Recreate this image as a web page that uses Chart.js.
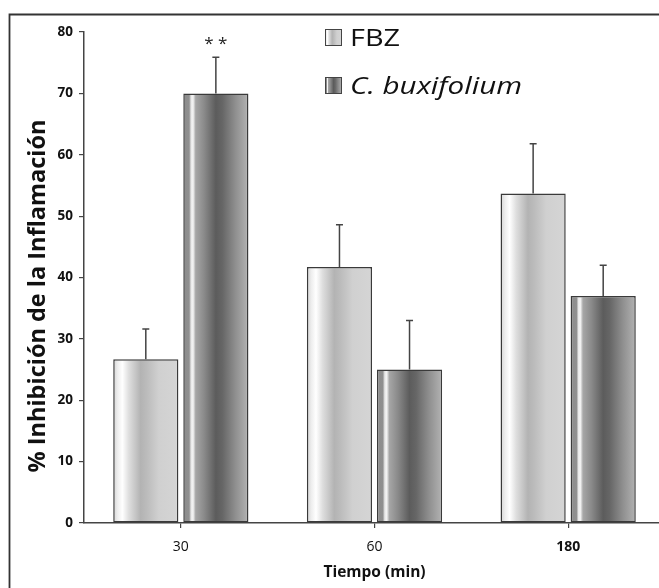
<!DOCTYPE html>
<html>
<head>
<meta charset="utf-8">
<script src="https://cdn.jsdelivr.net/npm/chart.js@4.4.1/dist/chart.umd.min.js"></script>
<style>
  html, body { margin: 0; padding: 0; background: #fff; overflow: hidden; }
  #wrap { position: relative; width: 665px; height: 588px; }
</style>
</head>
<body>
<div id="wrap"><canvas id="inflamacionChart"></canvas></div>
<script>
// Tiempos (min) y % de inhibición, media + error
const tiempos = ['30', '60', '180'];
const seriesNames = ['FBZ', 'C. buxifolium'];
const fbzValues = [26.7, 41.7, 53.7];
const fbzErrors = [4.9, 6.9, 8.1];
const cbuxValues = [70.0, 25.0, 37.0];
const cbuxErrors = [5.9, 8.0, 5.0];
const cbuxSignif = ['* *', '', ''];
const yTicks = [0, 10, 20, 30, 40, 50, 60, 70, 80];

const FONT = '"Open Sans", "Noto Sans", sans-serif';
const CAT_PCT = 0.7235;
const BAR_PCT = 0.93;

// cylinder-like shading for each series
const fbzStops = [[0, '#d4d4d4'], [0.07, '#eeeeee'], [0.14, '#ffffff'], [0.24, '#dedede'],
  [0.42, '#b3b3b3'], [0.52, '#bcbcbc'], [0.7, '#d0d0d0'], [1, '#d5d5d5']];
const cbuxStops = [[0, '#8c8c8c'], [0.09, '#8f8f8f'], [0.12, '#e8e8e8'], [0.15, '#f4f4f4'],
  [0.19, '#a6a6a6'], [0.32, '#8a8a8a'], [0.5, '#5c5c5c'], [0.6, '#666666'], [0.8, '#8f8f8f'], [1, '#b3b3b3']];

function makeGradient(ctx, left, width, stops) {
  const g = ctx.createLinearGradient(left, 0, left + width, 0);
  stops.forEach(s => g.addColorStop(s[0], s[1]));
  return g;
}

function barFill(stops) {
  return function(context) {
    const chart = context.chart;
    const xScale = chart.scales.x;
    const fallback = stops[4][1];
    if (!xScale || context.dataIndex === undefined) return fallback;
    const catW = xScale.width / tiempos.length;
    const slot = catW * CAT_PCT / 2;
    const barW = slot * BAR_PCT;
    const left = xScale.getPixelForValue(context.dataIndex) - catW * CAT_PCT / 2 +
      context.datasetIndex * slot + (slot - barW) / 2;
    if (!isFinite(left) || !(barW > 0)) return fallback;
    return makeGradient(chart.ctx, left, barW, stops);
  };
}

const framePlugin = {
  id: 'frame',
  afterDraw(chart) {
    const ctx = chart.ctx;
    ctx.save();
    ctx.strokeStyle = '#333';
    ctx.lineWidth = 1.8;
    ctx.beginPath();
    ctx.moveTo(9.5, 588);
    ctx.lineTo(9.5, 14.5);
    ctx.lineTo(chart.width, 14.5);
    ctx.stroke();
    ctx.restore();
  }
};

const errorBarPlugin = {
  id: 'errorBars',
  afterDatasetsDraw(chart) {
    const ctx = chart.ctx;
    const y = chart.scales.y;
    chart.data.datasets.forEach((ds, di) => {
      const meta = chart.getDatasetMeta(di);
      meta.data.forEach((bar, i) => {
        const top = y.getPixelForValue(ds.data[i] + ds.errors[i]);
        ctx.save();
        ctx.strokeStyle = '#444';
        ctx.lineWidth = 1.5;
        ctx.beginPath();
        ctx.moveTo(bar.x, bar.y);
        ctx.lineTo(bar.x, top);
        ctx.moveTo(bar.x - 3.5, top);
        ctx.lineTo(bar.x + 3.5, top);
        ctx.stroke();
        if (ds.signif && ds.signif[i]) {
          ctx.fillStyle = '#222';
          ctx.font = '17px ' + FONT;
          ctx.textAlign = 'center';
          ctx.textBaseline = 'middle';
          ctx.fillText(ds.signif[i], bar.x, top - 13);
        }
        ctx.restore();
      });
    });
  }
};

// legend text is stretched to the width it takes in the figure
const legendPlugin = {
  id: 'boxLegend',
  afterDraw(chart) {
    const ctx = chart.ctx;
    const rows = [
      {y: 29, text: seriesNames[0], italic: false, width: 50, stops: fbzStops},
      {y: 77, text: seriesNames[1], italic: true, width: 172, stops: cbuxStops}
    ];
    ctx.save();
    rows.forEach(r => {
      ctx.fillStyle = makeGradient(ctx, 325, 17, r.stops);
      ctx.fillRect(325, r.y, 17, 17);
      ctx.strokeStyle = '#444';
      ctx.lineWidth = 1;
      ctx.strokeRect(325.5, r.y + 0.5, 16, 16);
      ctx.fillStyle = '#111';
      ctx.font = (r.italic ? 'italic ' : '') + '23px ' + FONT;
      ctx.textAlign = 'left';
      ctx.textBaseline = 'alphabetic';
      const sx = r.width / ctx.measureText(r.text).width;
      ctx.save();
      ctx.translate(350, r.y + 17);
      ctx.scale(sx, 1);
      ctx.fillText(r.text, 0, 0);
      ctx.restore();
    });
    ctx.restore();
  }
};

const yTitlePlugin = {
  id: 'yTitle',
  afterDraw(chart) {
    const ctx = chart.ctx;
    ctx.save();
    ctx.translate(38, 296);
    ctx.rotate(-Math.PI / 2);
    ctx.fillStyle = '#111';
    ctx.font = 'bold 23.5px ' + FONT;
    ctx.textAlign = 'center';
    ctx.textBaseline = 'middle';
    ctx.fillText('% Inhibición de la Inflamación', 0, 0);
    ctx.restore();
  }
};

new Chart(document.getElementById('inflamacionChart'), {
  type: 'bar',
  data: {
    labels: tiempos,
    datasets: [{
      label: seriesNames[0],
      data: fbzValues,
      errors: fbzErrors,
      backgroundColor: barFill(fbzStops),
      borderColor: '#3a3a3a',
      borderWidth: 1.5,
      borderSkipped: false,
      categoryPercentage: CAT_PCT,
      barPercentage: BAR_PCT
    }, {
      label: seriesNames[1],
      data: cbuxValues,
      errors: cbuxErrors,
      signif: cbuxSignif,
      backgroundColor: barFill(cbuxStops),
      borderColor: '#3a3a3a',
      borderWidth: 1.5,
      borderSkipped: false,
      categoryPercentage: CAT_PCT,
      barPercentage: BAR_PCT
    }]
  },
  options: {
    responsive: true,
    maintainAspectRatio: false,
    animation: false,
    layout: { padding: { top: 32, left: 0, right: 0, bottom: 0 } },
    plugins: {
      legend: { display: false },
      tooltip: { enabled: false }
    },
    scales: {
      x: {
        afterFit: s => { s.height = 65; },
        grid: { offset: false, drawOnChartArea: false, drawTicks: true, tickLength: 5, color: '#444', lineWidth: 1.2 },
        border: { display: true, color: '#444', width: 1.5 },
        ticks: {
          color: '#111',
          padding: 11,
          font: ctx => ({ family: FONT, size: 14, weight: ctx.index === 2 ? 'bold' : 'normal' })
        },
        title: {
          display: true,
          text: 'Tiempo (min)',
          color: '#111',
          font: { family: FONT, size: 15.5, weight: 'bold' },
          padding: { top: 0, bottom: 6 }
        }
      },
      y: {
        min: yTicks[0],
        max: yTicks[yTicks.length - 1],
        afterFit: s => { s.width = 84; },
        afterBuildTicks: s => { s.ticks = yTicks.map(v => ({ value: v })); },
        grid: { drawOnChartArea: false, drawTicks: true, tickLength: 5, color: '#444', lineWidth: 1.2 },
        border: { display: true, color: '#444', width: 1.5 },
        ticks: {
          color: '#111',
          padding: 6,
          font: { family: FONT, size: 13.5, weight: 'bold' }
        }
      }
    }
  },
  plugins: [framePlugin, errorBarPlugin, legendPlugin, yTitlePlugin]
});
</script>
</body>
</html>
